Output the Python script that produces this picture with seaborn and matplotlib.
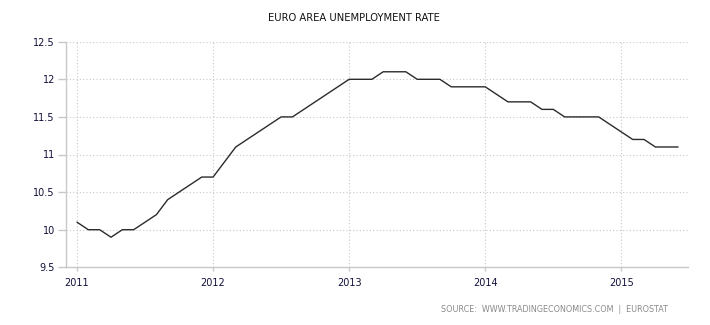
import numpy as np
import pandas as pd
import matplotlib
matplotlib.use("Agg")
import matplotlib.pyplot as plt
import seaborn as sns

# Euro area unemployment rate (%), monthly, Jan 2011 - Jun 2015
months = pd.date_range("2011-01-01", "2015-06-01", freq="MS")
rate = [
    10.1, 10.0, 10.0, 9.9, 10.0, 10.0, 10.1, 10.2, 10.4, 10.5, 10.6, 10.7,   # 2011
    10.7, 10.9, 11.1, 11.2, 11.3, 11.4, 11.5, 11.5, 11.6, 11.7, 11.8, 11.9,  # 2012
    12.0, 12.0, 12.0, 12.1, 12.1, 12.1, 12.0, 12.0, 12.0, 11.9, 11.9, 11.9,  # 2013
    11.9, 11.8, 11.7, 11.7, 11.7, 11.6, 11.6, 11.5, 11.5, 11.5, 11.5, 11.4,  # 2014
    11.3, 11.2, 11.2, 11.1, 11.1, 11.1,                                      # 2015
]
year_ticks = [2011, 2012, 2013, 2014, 2015]
y_ticks = [9.5, 10, 10.5, 11, 11.5, 12, 12.5]
y_tick_labels = ["9.5", "10", "10.5", "11", "11.5", "12", "12.5"]

df = pd.DataFrame({
    "year": months.year + (months.month - 1) / 12.0,
    "rate": rate,
})

sns.set_theme(style="white")
plt.rcParams["font.family"] = ["DejaVu Sans"]

fig = plt.figure(figsize=(7.10, 3.25), dpi=100)
W, H = 710, 325
ax = fig.add_axes([66 / W, (H - 267.3) / H, (688 - 66) / W, (267.3 - 41.7) / H])

sns.lineplot(data=df, x="year", y="rate", ax=ax, color="#2b2b2b", linewidth=1.0)

ax.set_xlim(2011 - 11 / 136.2, 2015 + (688 - 621.3) / 136.2)
ax.set_ylim(9.5, 12.5)
ax.set_xticks(year_ticks)
ax.set_xticklabels([str(y) for y in year_ticks])
ax.set_yticks(y_ticks)
ax.set_yticklabels(y_tick_labels)
ax.set_xlabel("")
ax.set_ylabel("")

grid_color = "#c8c8c8"
ax.grid(True, color=grid_color, linestyle=(0, (1, 2)), linewidth=0.8)
ax.set_axisbelow(True)

for side in ["top", "right"]:
    ax.spines[side].set_visible(False)
for side in ["left", "bottom"]:
    ax.spines[side].set_visible(True)
    ax.spines[side].set_color(grid_color)
    ax.spines[side].set_linewidth(1.0)

label_color = "#10103a"
ax.tick_params(axis="y", which="major", direction="out", length=6, width=1,
               color=grid_color, labelsize=7, labelcolor=label_color, pad=2)
ax.tick_params(axis="x", which="major", direction="out", length=3, width=1,
               color=grid_color, labelsize=7, labelcolor=label_color, pad=5)
ax.tick_params(left=True, bottom=True)

fig.text(354 / W, 1 - 18 / H, "EURO AREA UNEMPLOYMENT RATE", ha="center", va="center",
         fontsize=7.2, color="#111111")
fig.text(554.5 / W, 1 - 310 / H, "SOURCE:  WWW.TRADINGECONOMICS.COM  |  EUROSTAT",
         ha="center", va="center", fontsize=5.75, color="#8a8a8a")

fig.savefig("out.png", dpi=100, facecolor="white")
